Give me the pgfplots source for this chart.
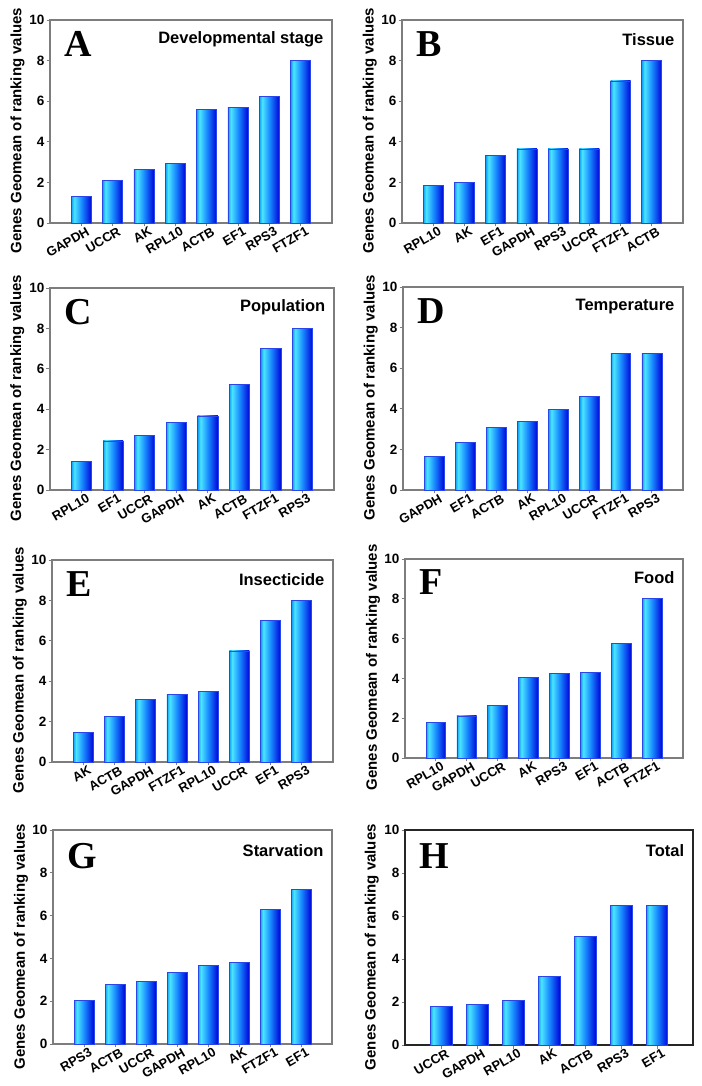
\documentclass[border=0pt]{standalone}
\usepackage{pgfplots}
\pgfplotsset{compat=1.18}
\usepackage{fontspec}
\setmainfont{Liberation Sans}
\newfontfamily\tnr{Liberation Serif}
\definecolor{barE}{RGB}{40,70,235}
\definecolor{frame}{RGB}{125,125,125}
\pgfdeclarehorizontalshading{barsh}{100bp}{rgb(0bp)=(0.05,0.62,1); rgb(25bp)=(0.05,0.62,1); rgb(32bp)=(0.3,0.9,1); rgb(50bp)=(0.1,0.55,1); rgb(75bp)=(0,0.02,0.86); rgb(100bp)=(0,0.02,0.86)}
\pgfplotsset{
  gene/.style={
    scale only axis, anchor=south west,
    xmin=0, xmax=9, ymin=0, ymax=10,
    ytick={0,2,4,6,8,10}, ytick pos=left, xtick pos=bottom, tick align=outside,
    xtick={1,...,8},
    major tick length=3.5pt,
    tick style={draw=frame, line width=0.9pt},
    axis line style={draw=frame, line width=1.2pt},
    /pgf/number format/assume math mode=true,
    yticklabel style={font=\bfseries\fontsize{13.5}{13.5}\selectfont, inner sep=2pt},
    xticklabel style={font=\bfseries\fontsize{13}{13}\selectfont, rotate=30, anchor=north east, inner sep=1pt, xshift=5pt, yshift=-1pt},
    ylabel={Genes Geomean of ranking values},
    ylabel style={font=\bfseries\fontsize{15}{15}\selectfont, at={(axis description cs:-0.115,0.455)}, anchor=center},
    clip=false,
  },
  genebar/.style={ybar, bar width=0.64, draw=barE, line width=0.6pt, shade, shading=barsh},
}
\newcommand{\B}[2]{\addplot[genebar] coordinates {(#1,#2)};}
\newcommand{\panel}[2]{%
  \node[anchor=base west, font=\tnr\bfseries\fontsize{38}{38}\selectfont, inner sep=0pt] at (rel axis cs:0.05,0.82) {#1};
  \node[anchor=east, font=\bfseries\fontsize{16.5}{16.5}\selectfont, inner sep=0pt] at (rel axis cs:0.97,0.905) {#2};
}
\begin{document}
\begin{tikzpicture}
\useasboundingbox (0,0) rectangle (701pt,1086pt);
% A
\begin{axis}[gene, at={(50pt,863pt)}, width=282pt, height=203pt,
  xticklabels={GAPDH,UCCR,AK,RPL10,ACTB,EF1,RPS3,FTZF1}]
\B{1}{1.31}\B{2}{2.11}\B{3}{2.62}\B{4}{2.92}\B{5}{5.60}\B{6}{5.68}\B{7}{6.22}\B{8}{8.0}
\panel{A}{Developmental stage}
\end{axis}
% B
\begin{axis}[gene, at={(402pt,863pt)}, width=281pt, height=203pt,
  xticklabels={RPL10,AK,EF1,GAPDH,RPS3,UCCR,FTZF1,ACTB}]
\B{1}{1.84}\B{2}{2.0}\B{3}{3.32}\B{4}{3.65}\B{5}{3.65}\B{6}{3.65}\B{7}{7.0}\B{8}{8.0}
\panel{B}{Tissue}
\end{axis}
% C
\begin{axis}[gene, at={(50pt,596pt)}, width=284pt, height=202pt,
  xticklabels={RPL10,EF1,UCCR,GAPDH,AK,ACTB,FTZF1,RPS3}]
\B{1}{1.40}\B{2}{2.43}\B{3}{2.69}\B{4}{3.36}\B{5}{3.67}\B{6}{5.22}\B{7}{7.0}\B{8}{8.0}
\panel{C}{Population}
\end{axis}
% D
\begin{axis}[gene, at={(403pt,596pt)}, width=280pt, height=203pt,
  xticklabels={GAPDH,EF1,ACTB,AK,RPL10,UCCR,FTZF1,RPS3}]
\B{1}{1.66}\B{2}{2.35}\B{3}{3.08}\B{4}{3.36}\B{5}{3.96}\B{6}{4.60}\B{7}{6.71}\B{8}{6.71}
\panel{D}{Temperature}
\end{axis}
% E
\begin{axis}[gene, at={(52pt,324pt)}, width=281pt, height=202pt,
  xticklabels={AK,ACTB,GAPDH,FTZF1,RPL10,UCCR,EF1,RPS3}]
\B{1}{1.45}\B{2}{2.26}\B{3}{3.10}\B{4}{3.36}\B{5}{3.48}\B{6}{5.50}\B{7}{7.0}\B{8}{8.0}
\panel{E}{Insecticide}
\end{axis}
% F
\begin{axis}[gene, at={(405pt,328pt)}, width=278pt, height=199pt,
  xticklabels={RPL10,GAPDH,UCCR,AK,RPS3,EF1,ACTB,FTZF1}]
\B{1}{1.79}\B{2}{2.12}\B{3}{2.63}\B{4}{4.05}\B{5}{4.25}\B{6}{4.30}\B{7}{5.75}\B{8}{8.0}
\panel{F}{Food}
\end{axis}
% G
\begin{axis}[gene, at={(53pt,42pt)}, width=279pt, height=214pt,
  xticklabels={RPS3,ACTB,UCCR,GAPDH,RPL10,AK,FTZF1,EF1}]
\B{1}{2.02}\B{2}{2.80}\B{3}{2.93}\B{4}{3.33}\B{5}{3.69}\B{6}{3.83}\B{7}{6.28}\B{8}{7.24}
\panel{G}{Starvation}
\end{axis}
% H
\begin{axis}[gene, at={(405pt,41pt)}, width=288pt, height=215pt, xmax=8, xtick={1,...,7},
  axis line style={draw=black!85, line width=1.2pt},
  xticklabels={UCCR,GAPDH,RPL10,AK,ACTB,RPS3,EF1},
  genebar/.append style={bar width=0.6}]
\B{1}{1.78}\B{2}{1.90}\B{3}{2.06}\B{4}{3.18}\B{5}{5.04}\B{6}{6.50}\B{7}{6.50}
\panel{H}{Total}
\end{axis}
\end{tikzpicture}
\end{document}
